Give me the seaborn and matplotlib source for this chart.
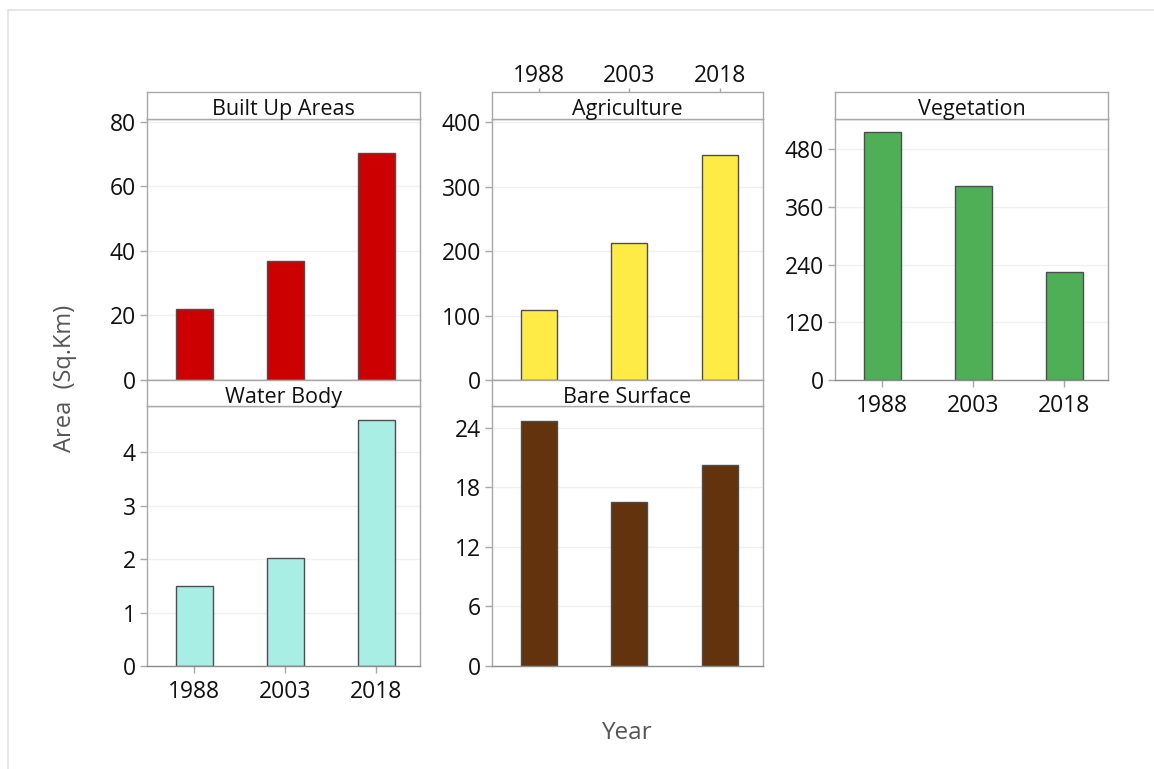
import matplotlib
matplotlib.use("Agg")
import matplotlib.pyplot as plt
from matplotlib.lines import Line2D
import seaborn as sns
import pandas as pd

# Land-cover area by year (sq. km)
years = ["1988", "2003", "2018"]
built_up = [22.0, 37.0, 70.4]
agriculture = [109.0, 212.0, 349.0]
vegetation = [515.0, 403.5, 225.0]
water_body = [1.49, 2.01, 4.6]
bare_surface = [24.7, 16.5, 20.3]

classes = ["Built Up Areas", "Agriculture", "Vegetation", "Water Body", "Bare Surface"]
colors = ["#CC0000", "#FFEB45", "#4FAF57", "#A8EEE4", "#62330C"]
y_ticks = [
    [0, 20, 40, 60, 80],
    [0, 100, 200, 300, 400],
    [0, 120, 240, 360, 480],
    [0, 1, 2, 3, 4],
    [0, 6, 12, 18, 24],
]
y_tops = [80.9, 405, 543, 4.86, 26.2]

df = pd.DataFrame({
    "Year": years * 5,
    "Area": built_up + agriculture + vegetation + water_body + bare_surface,
    "Class": [c for c in classes for _ in years],
})

sns.set_theme(style="white")
plt.rcParams["font.family"] = ["Open Sans", "DejaVu Sans"]

W, H = 1154, 769
fig = plt.figure(figsize=(W / 100, H / 100), dpi=100)


def box(x0, y0, x1, y1):
    return [x0 / W, 1 - y1 / H, (x1 - x0) / W, (y1 - y0) / H]


# pixel boxes: (x0, strip_top, strip_bottom, x1, plot_bottom)
panels = {
    "Built Up Areas": (147, 92, 119, 420, 380),
    "Agriculture": (492, 92, 119, 763, 380),
    "Vegetation": (835, 92, 119, 1108, 380),
    "Water Body": (147, 380, 406, 420, 666),
    "Bare Surface": (492, 380, 406, 763, 666),
}
bottom_labels = {"Vegetation", "Water Body"}
top_labels = {"Agriculture"}

frame_col = "#a8a8a8"
text_col = "#111111"
tick_fs = 16.5

for i, name in enumerate(classes):
    x0, st, sb, x1, pb = panels[name]
    ax = fig.add_axes(box(x0, sb, x1, pb))
    sub = df[df["Class"] == name]
    sns.barplot(data=sub, x="Year", y="Area", ax=ax, color=colors[i],
                saturation=1, width=0.4, edgecolor="#4d4d4d", linewidth=1.0,
                errorbar=None, order=years)
    ax.set_xlim(-0.52, 2.48)
    ax.set_ylim(0, y_tops[i])
    ax.set_yticks(y_ticks[i])
    ax.set_xlabel("")
    ax.set_ylabel("")
    ax.grid(axis="y", color="#f0f0f0", linewidth=1.0)
    ax.set_axisbelow(True)
    for s in ax.spines.values():
        s.set_color(frame_col)
        s.set_linewidth(1.0)
    ax.spines["bottom"].set_color("#8c8c8c")
    ax.tick_params(axis="y", left=True, length=5, width=1, color=frame_col,
                   labelsize=tick_fs, labelcolor=text_col, pad=3)
    if name in bottom_labels:
        ax.tick_params(axis="x", bottom=True, length=5, width=1, color=frame_col,
                       labelsize=tick_fs, labelcolor=text_col, pad=5)
    else:
        ax.tick_params(axis="x", bottom=False, labelbottom=False)

    # strip header
    sax = fig.add_axes(box(x0, st, x1, sb))
    sax.set_facecolor("white")
    sax.set_xlim(ax.get_xlim())
    sax.set_yticks([])
    for s in sax.spines.values():
        s.set_color(frame_col)
        s.set_linewidth(1.0)
    sax.text(0.5, 0.34, name, transform=sax.transAxes, ha="center", va="center",
             fontsize=15.5, color=text_col)
    if name in top_labels:
        sax.set_xticks(range(len(years)))
        sax.set_xticklabels(years)
        sax.tick_params(axis="x", top=True, labeltop=True, bottom=False,
                        labelbottom=False, length=3, width=1, color=frame_col,
                        labelsize=tick_fs, labelcolor=text_col, pad=0)
    else:
        sax.set_xticks([])

fig.text(65 / W, 1 - 378 / H, "Area  (Sq.Km)", rotation=90, ha="center", va="center",
         fontsize=17, color="#555555")
fig.text(626 / W, 1 - 733 / H, "Year", ha="center", va="center",
         fontsize=17.5, color="#555555")

# light frame edges of the canvas
fig.add_artist(Line2D([8 / W, 1.0], [1 - 10 / H, 1 - 10 / H], color="#e2e2e2", lw=1.2))
fig.add_artist(Line2D([8 / W, 8 / W], [0, 1 - 10 / H], color="#e2e2e2", lw=1.2))

fig.savefig("out.png", dpi=100)
